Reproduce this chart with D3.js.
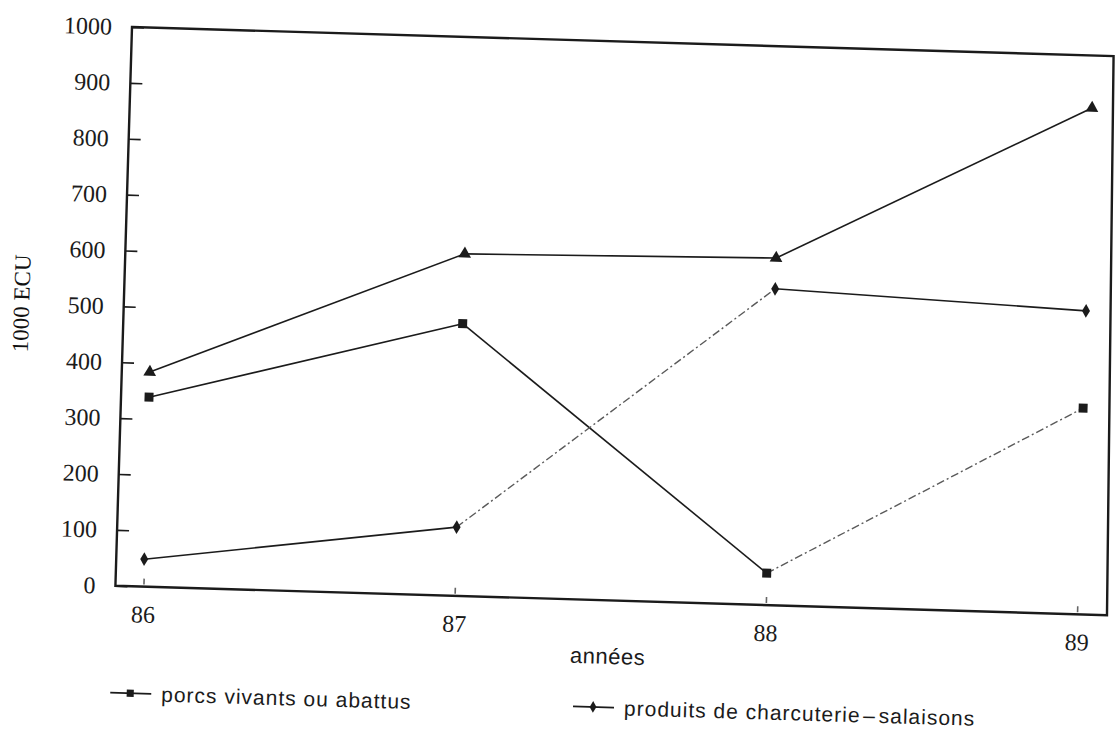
<!DOCTYPE html>
<html>
<head>
<meta charset="utf-8">
<script src="https://cdn.jsdelivr.net/npm/d3@7"></script>
<style>
  html, body { margin: 0; padding: 0; background: #ffffff; }
  svg { display: block; }
</style>
</head>
<body>
<svg id="chart" width="1118" height="730"></svg>
<script>
// ---- data ----
const years = ["86", "87", "88", "89"];
const porcs = [339, 487, 57, 369];          // porcs vivants ou abattus (squares)
const charcuterie = [49, 123, 566, 543];    // produits de charcuterie - salaisons (diamonds)
const total = [384, 612, 621, 906];         // triangles (no legend entry)
const yTicks = [0, 100, 200, 300, 400, 500, 600, 700, 800, 900, 1000];
const legendLabels = ["porcs vivants ou abattus", "produits de charcuterie\u200a\u2013\u200asalaisons"];

// ---- layout (scan is slightly rotated) ----
const W = 987, H = 559;
const svg = d3.select("#chart");
const g = svg.append("g").attr("transform", "translate(132,27) rotate(1.7)");

const x = d3.scalePoint().domain(years).range([28, 962]);
const y = d3.scaleLinear().domain([0, 1000]).range([H, 0]);

const ink = "#1b1b1b";
const serif = "'Liberation Serif', 'DejaVu Serif', serif";
const sans = "'Liberation Sans', Arial, sans-serif";

// frame
g.append("path")
  .attr("d", `M0,0 L${W - 5},0 L${W + 5},${H} L0,${H} Z`)
  .attr("fill", "none").attr("stroke", ink).attr("stroke-width", 2.4)
  .attr("stroke-linejoin", "miter");

// y axis
const yAxis = g.append("g")
  .call(d3.axisLeft(y).tickValues(yTicks).tickFormat(d3.format("d"))
    .tickSizeInner(-12).tickSizeOuter(0).tickPadding(20));
yAxis.attr("font-family", serif).attr("font-size", 24);
yAxis.select(".domain").remove();
yAxis.selectAll(".tick line").attr("stroke", ink).attr("stroke-width", 1.6);
yAxis.selectAll(".tick text").attr("fill", ink);

// x axis
const xAxis = g.append("g").attr("transform", `translate(0,${H - 2})`)
  .call(d3.axisBottom(x).tickSizeInner(-6).tickSizeOuter(0).tickPadding(21));
xAxis.attr("font-family", serif).attr("font-size", 24);
xAxis.select(".domain").remove();
xAxis.selectAll(".tick line").attr("stroke", "#666").attr("stroke-width", 1.6);
xAxis.selectAll(".tick text").attr("fill", ink);

// axis titles
g.append("text")
  .attr("transform", `translate(-102,${H / 2}) rotate(-90)`)
  .attr("text-anchor", "middle").attr("dominant-baseline", "central")
  .attr("font-family", serif).attr("font-size", 23).attr("fill", "#111")
  .text("1000 ECU");
g.append("text")
  .attr("x", 494).attr("y", 615)
  .attr("text-anchor", "middle").attr("dominant-baseline", "central")
  .attr("font-family", sans).attr("font-size", 22).attr("fill", ink)
  .style("letter-spacing", "0.5px")
  .text("années");

// series
const series = [
  { values: total, symbol: d3.symbolTriangle, size: 70, dashed: [] },
  { values: porcs, symbol: d3.symbolSquare, size: 80, dashed: [2] },
  { values: charcuterie, symbol: d3.symbolDiamond, size: 55, dashed: [1] }
];

series.forEach(s => {
  const pts = years.map((yr, i) => [x(yr), y(s.values[i])]);
  for (let i = 0; i < pts.length - 1; i++) {
    const isDashed = s.dashed.includes(i);
    g.append("path")
      .attr("d", d3.line()([pts[i], pts[i + 1]]))
      .attr("fill", "none")
      .attr("stroke", isDashed ? "#5a5a5a" : ink)
      .attr("stroke-width", isDashed ? 1.4 : 1.6)
      .attr("stroke-dasharray", isDashed ? "8,3,2,3" : null);
  }
  g.selectAll(null).data(pts).enter().append("path")
    .attr("transform", d => `translate(${d[0]},${d[1]})`)
    .attr("d", d3.symbol().type(s.symbol).size(s.size))
    .attr("fill", ink);
});

// legend
const legendItems = [
  { x0: -2, label: legendLabels[0], symbol: d3.symbolSquare, size: 50 },
  { x0: 461, label: legendLabels[1], symbol: d3.symbolDiamond, size: 40 }
];
legendItems.forEach(it => {
  const lg = g.append("g").attr("transform", `translate(${it.x0},666)`);
  lg.append("line").attr("x1", 0).attr("x2", 41).attr("y1", 0).attr("y2", 0)
    .attr("stroke", ink).attr("stroke-width", 1.6);
  lg.append("path").attr("transform", "translate(20,0)")
    .attr("d", d3.symbol().type(it.symbol).size(it.size)).attr("fill", ink);
  lg.append("text").attr("x", 51).attr("y", 0)
    .attr("dominant-baseline", "central")
    .attr("font-family", sans).attr("font-size", 21).attr("fill", ink)
    .style("letter-spacing", "1px")
    .text(it.label);
});
</script>
</body>
</html>
